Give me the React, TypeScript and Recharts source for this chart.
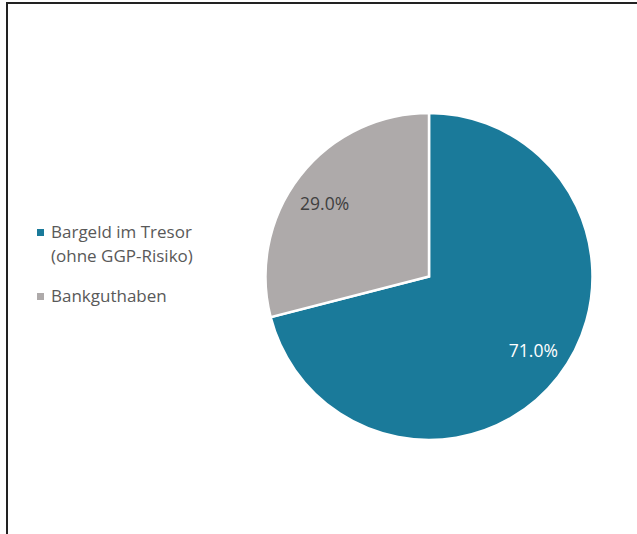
import React from "react";
import { PieChart, Pie, Cell } from "recharts";

const categories = ["Bargeld im Tresor (ohne GGP-Risiko)", "Bankguthaben"];
const legendLines = [["Bargeld im Tresor", "(ohne GGP-Risiko)"], ["Bankguthaben"]];
const values = [71.0, 29.0];
const colors = ["#1a7a9a", "#aeaaaa"];
const labelColors = ["#ffffff", "#404040"];

const data = categories.map((name, i) => ({ name, value: values[i] }));

const RADIAN = Math.PI / 180;
const FONT = "'Open Sans', 'Noto Sans', sans-serif";

const renderLabel = (props: any) => {
  const { cx, cy, midAngle, outerRadius, index, value } = props;
  const r = outerRadius * 0.78;
  const a = midAngle + 2.7;
  const x = cx + r * Math.cos(-a * RADIAN);
  const y = cy + r * Math.sin(-a * RADIAN);
  return (
    <text
      x={x}
      y={y}
      fill={labelColors[index]}
      textAnchor="middle"
      dominantBaseline="central"
      fontFamily={FONT}
      fontSize={17.5}
    >
      {value.toFixed(1)}%
    </text>
  );
};

export default function App() {
  return (
    <div style={{ position: "absolute", left: 0, top: 0, width: 637, height: 534, overflow: "hidden", background: "#fff" }}>
      <div
        style={{
          position: "absolute",
          left: 6,
          top: 2,
          width: 660,
          height: 560,
          borderLeft: "2px solid #222",
          borderTop: "2px solid #222",
          boxSizing: "border-box",
        }}
      />
      <div style={{ position: "absolute", left: 0, top: 0 }}>
        <PieChart width={637} height={534} margin={{ top: 0, right: 0, bottom: 0, left: 0 }}>
          <Pie
            data={data}
            dataKey="value"
            nameKey="name"
            cx={429}
            cy={276.5}
            outerRadius={163.5}
            startAngle={90}
            endAngle={-270}
            stroke="#ffffff"
            strokeWidth={2.5}
            label={renderLabel}
            labelLine={false}
            isAnimationActive={false}
          >
            {data.map((d, i) => (
              <Cell key={d.name} fill={colors[i]} />
            ))}
          </Pie>
        </PieChart>
      </div>
      <div
        style={{
          position: "absolute",
          left: 37,
          top: 220,
          width: 220,
          fontFamily: FONT,
          fontSize: 17,
          color: "#595959",
        }}
      >
        {legendLines.map((lines, i) => (
          <div key={i} style={{ display: "flex", alignItems: "flex-start", marginBottom: 16 }}>
            <div
              style={{
                width: 7,
                height: 7,
                background: colors[i],
                marginTop: 9,
                marginRight: 7,
                flexShrink: 0,
              }}
            />
            <div style={{ lineHeight: "24px" }}>
              {lines.map((l, j) => (
                <div key={j}>{l}</div>
              ))}
            </div>
          </div>
        ))}
      </div>
    </div>
  );
}
